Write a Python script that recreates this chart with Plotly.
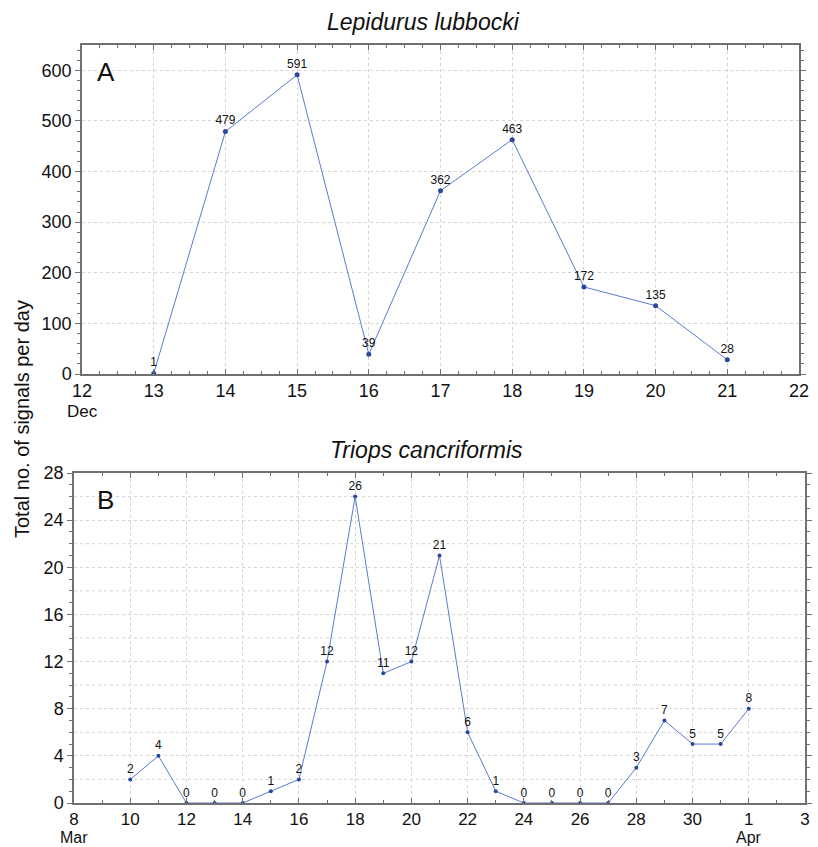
import plotly.graph_objects as go

# Panel A: Lepidurus lubbocki (December)
days_a = [13, 14, 15, 16, 17, 18, 19, 20, 21]
counts_a = [1, 479, 591, 39, 362, 463, 172, 135, 28]
ticks_a = [12, 13, 14, 15, 16, 17, 18, 19, 20, 21, 22]
ticklabels_a = ["12", "13", "14", "15", "16", "17", "18", "19", "20", "21", "22"]
month_a = [(12, "Dec")]

# Panel B: Triops cancriformis (March - April; 32 = Apr 1)
days_b = [10, 11, 12, 13, 14, 15, 16, 17, 18, 19, 20, 21, 22, 23, 24, 25, 26, 27, 28, 29, 30, 31, 32]
counts_b = [2, 4, 0, 0, 0, 1, 2, 12, 26, 11, 12, 21, 6, 1, 0, 0, 0, 0, 3, 7, 5, 5, 8]
ticks_b = [8, 10, 12, 14, 16, 18, 20, 22, 24, 26, 28, 30, 32, 34]
ticklabels_b = ["8", "10", "12", "14", "16", "18", "20", "22", "24", "26", "28", "30", "1", "3"]
month_b = [(8, "Mar"), (32, "Apr")]
extra_grid_b = [2, 6, 10, 14, 18, 22, 26]

W, H = 818, 847
LINE = "#5b7bd0"
MARK = "#2848a0"
FRAME = "#707070"
GRID = "#d4d4d4"
FONT = "Liberation Sans, Arial, sans-serif"

fig = go.Figure()
fig.add_trace(go.Scatter(
    x=days_a, y=counts_a, mode="lines+markers+text",
    text=[str(v) for v in counts_a], textposition="top center",
    textfont=dict(size=12, color="#111", family=FONT),
    line=dict(color=LINE, width=1), marker=dict(color=MARK, size=5),
    xaxis="x", yaxis="y", showlegend=False, cliponaxis=False))
fig.add_trace(go.Scatter(
    x=days_b, y=counts_b, mode="lines+markers+text",
    text=[str(v) for v in counts_b], textposition="top center",
    textfont=dict(size=12, color="#111", family=FONT),
    line=dict(color=LINE, width=1), marker=dict(color=MARK, size=4),
    xaxis="x2", yaxis="y2", showlegend=False, cliponaxis=False))

def px_x(p):
    return p / W

def px_y(p):
    return 1 - p / H

common = dict(showline=True, linecolor=FRAME, linewidth=1.5, mirror="ticks",
              showgrid=True, gridcolor=GRID, griddash="dot", gridwidth=1,
              zeroline=False, automargin=False,
              tickfont=dict(size=18, color="#111", family=FONT),
              ticklen=5, tickcolor=FRAME)
common_x2 = dict(common)
common_x2["tickfont"] = dict(size=17, color="#111", family=FONT)

fig.update_layout(
    template="none",
    width=W, height=H, margin=dict(l=0, r=0, t=0, b=0),
    paper_bgcolor="white", plot_bgcolor="white",
    font=dict(family=FONT),
    xaxis=dict(domain=[px_x(82), px_x(799)], anchor="y", range=[12, 22],
               tickvals=ticks_a, ticktext=ticklabels_a, ticks="inside",
               minor=dict(dtick=0.25, ticklen=3, tickcolor=FRAME, ticks="inside", showgrid=False),
               **common),
    yaxis=dict(domain=[px_y(374), px_y(45)], anchor="x", range=[0, 650],
               tickvals=[0, 100, 200, 300, 400, 500, 600], ticks="outside",
               minor=dict(dtick=20, ticklen=3, tickcolor=FRAME, ticks="outside", showgrid=False),
               **common),
    xaxis2=dict(domain=[px_x(74), px_x(805)], anchor="y2", range=[8, 34],
                tickvals=ticks_b, ticktext=ticklabels_b, ticks="inside", ticklabelstandoff=0,
                minor=dict(dtick=1, ticklen=3, tickcolor=FRAME, ticks="inside", showgrid=False),
                **common_x2),
    yaxis2=dict(domain=[px_y(803), px_y(473)], anchor="x2", range=[0, 28],
                tickvals=[0, 4, 8, 12, 16, 20, 24, 28], ticks="outside",
                minor=dict(dtick=1, ticklen=3, tickcolor=FRAME, ticks="outside", showgrid=False),
                **common),
)

annotations = [
    dict(text="<i>Lepidurus lubbocki</i>", x=px_x(424), y=px_y(22), xref="paper", yref="paper",
         showarrow=False, font=dict(size=23, color="#111", family=FONT), xanchor="center", yanchor="middle"),
    dict(text="<i>Triops cancriformis</i>", x=px_x(426), y=px_y(450), xref="paper", yref="paper",
         showarrow=False, font=dict(size=23, color="#111", family=FONT), xanchor="center", yanchor="middle"),
    dict(text="Total no. of signals per day", x=px_x(22), y=px_y(419), xref="paper", yref="paper",
         showarrow=False, textangle=-90, font=dict(size=20, color="#111", family=FONT),
         xanchor="center", yanchor="middle"),
    dict(text="A", x=px_x(106), y=px_y(72), xref="paper", yref="paper",
         showarrow=False, font=dict(size=26, color="#111", family=FONT), xanchor="center", yanchor="middle"),
    dict(text="B", x=px_x(106), y=px_y(500), xref="paper", yref="paper",
         showarrow=False, font=dict(size=26, color="#111", family=FONT), xanchor="center", yanchor="middle"),
]
for xv, lab in month_a:
    annotations.append(dict(text=lab, x=xv, xref="x", y=px_y(411), yref="paper", showarrow=False,
                            font=dict(size=17, color="#111", family=FONT), xanchor="center", yanchor="middle"))
for xv, lab in month_b:
    annotations.append(dict(text=lab, x=xv, xref="x2", y=0, yref="paper", showarrow=False,
                            font=dict(size=16, color="#111", family=FONT), xanchor="center", yanchor="bottom",
                            borderpad=0))
fig.update_layout(annotations=annotations)

for v in extra_grid_b:
    fig.add_shape(type="line", xref="x2 domain", yref="y2", x0=0, x1=1, y0=v, y1=v,
                  line=dict(color=GRID, width=1, dash="dot"), layer="below")

fig.write_html("out.html")
